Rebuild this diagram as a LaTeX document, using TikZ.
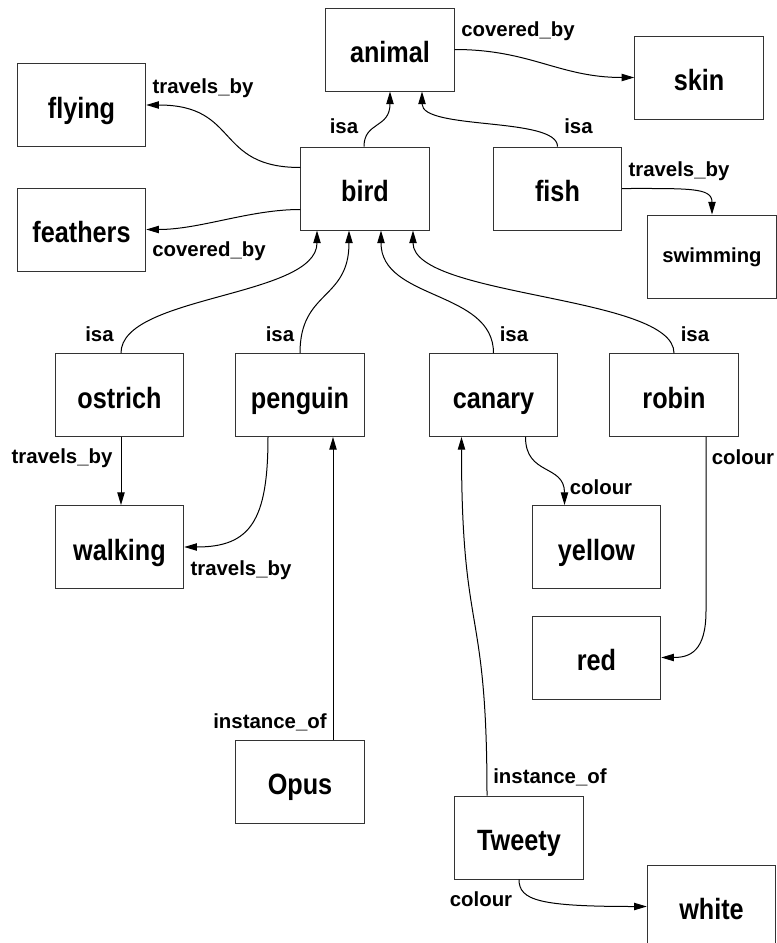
\documentclass[tikz,border=0pt]{standalone}
\usepackage{fontspec}
\setmainfont{Liberation Sans}
\newfontfamily\conceptfont[FakeStretch=0.86]{Liberation Sans}
\usetikzlibrary{arrows.meta,calc}
\begin{document}
\begin{tikzpicture}[x=0.75pt,y=-0.75pt,
  box/.style={draw=black!80, line width=0.7pt, minimum width=96.4pt, minimum height=62.25pt,
    inner sep=0pt, font=\conceptfont\fontsize{22}{24}\selectfont\bfseries, text height=20pt, text depth=0.2pt},
  smallbox/.style={box, font=\fontsize{15.2}{18}\selectfont\bfseries, text height=9pt, text depth=0.75pt},
  lbl/.style={anchor=base, inner sep=0pt, font=\fontsize{15.3}{18}\selectfont\bfseries},
  link/.style={line width=0.75pt},
  arr/.style={link, -{Triangle[length=9.5pt,width=5.5pt]}}]
\useasboundingbox (0,0) rectangle (777,943);

% concepts
\node[box] (animal)   at (390,49.5)   {animal};
\node[box] (skin)     at (699,77.5)   {skin};
\node[box] (flying)   at (81.5,105)   {flying};
\node[box] (feathers) at (81.5,229.5) {feathers};
\node[box] (bird)     at (365,188.5)  {bird};
\node[box] (fish)     at (557.5,188.5){fish};
\node[smallbox] (swimming) at (712,256.5) {swimming};
\node[box] (ostrich)  at (119.5,395)  {ostrich};
\node[box] (penguin)  at (300,395)    {penguin};
\node[box] (canary)   at (493.5,395)  {canary};
\node[box] (robin)    at (674,395)    {robin};
\node[box] (walking)  at (119.5,547)  {walking};
\node[box] (yellow)   at (596.5,547)  {yellow};
\node[box] (red)      at (596.5,657.5){red};
\node[box] (Opus)     at (300,781.5)  {Opus};
\node[box] (Tweety)   at (519,837.5)  {Tweety};
\node[box] (white)    at (711.5,906.5){white};

% relations
\draw[arr] ($(bird.north)+(-1,0)$) .. controls ($(bird.north)+(-1,-25)$) and ($(animal.south)+(0,37)$) .. (animal.south);
\draw[arr] (fish.north) .. controls ($(fish.north)+(0,-30)$) and ($(animal.south)+(32,39)$) .. ($(animal.south)+(32,0)$);
\draw[arr] (animal.east) .. controls ($(animal.east)+(76,0)$) and ($(skin.west)+(-75,0)$) .. (skin.west);
\draw[arr] ($(bird.west)+(0,-21)$) .. controls ($(bird.west)+(-86,-21)$) and ($(flying.east)+(94,0)$) .. (flying.east);
\draw[arr] ($(bird.west)+(0,21)$) .. controls ($(bird.west)+(-51,21)$) and ($(feathers.east)+(54,0)$) .. (feathers.east);
\draw[arr] (fish.east) .. controls ($(fish.east)+(68,0)$) and ($(swimming.north)+(0,-27)$) .. (swimming.north);
\draw[arr] ($(ostrich.north)+(1.5,0)$) .. controls ($(ostrich.north)+(1.5,-58)$) and ($(bird.south)+(-48,67)$) .. ($(bird.south)+(-48,0)$);
\draw[arr] (penguin.north) .. controls ($(penguin.north)+(0,-63)$) and ($(bird.south)+(-16,70)$) .. ($(bird.south)+(-16,0)$);
\draw[arr] (canary.north) .. controls ($(canary.north)+(0,-63)$) and ($(bird.south)+(16,70)$) .. ($(bird.south)+(16,0)$);
\draw[arr] (robin.north) .. controls ($(robin.north)+(0,-58)$) and ($(bird.south)+(48,67)$) .. ($(bird.south)+(48,0)$);
\draw[arr] ($(ostrich.south)+(1.5,0)$) -- ($(walking.north)+(1.5,0)$);
\draw[arr] ($(penguin.south)+(-32,0)$) .. controls ($(penguin.south)+(-32,84)$) and ($(walking.east)+(66,0)$) .. (walking.east);
\draw[arr] ($(Opus.north)+(33,0)$) -- ($(penguin.south)+(33,0)$);
\draw[arr] ($(Tweety.north)+(-32,0)$) .. controls ($(Tweety.north)+(-32,-196)$) and ($(canary.south)+(-32,204)$) .. ($(canary.south)+(-32,0)$);
\draw[arr] ($(canary.south)+(32,0)$) .. controls ($(canary.south)+(32,39)$) and ($(yellow.north)+(-32,-41)$) .. ($(yellow.north)+(-32,0)$);
\draw[arr] ($(robin.south)+(32,0)$) -- ($(robin.south)+(32,174)$) .. controls ($(robin.south)+(32,214)$) and ($(red.east)+(29,0)$) .. (red.east);
\draw[arr] (Tweety.south) .. controls ($(Tweety.south)+(0,21)$) and ($(white.west)+(-107,0)$) .. (white.west);

% relation names
\node[lbl] (l-bird-animal)    at (344,133)   {isa};
\node[lbl] (l-fish-animal)    at (578.5,133) {isa};
\node[lbl] (l-animal-skin)    at (518,36)    {covered\_by};
\node[lbl] (l-bird-flying)    at (203,93)    {travels\_by};
\node[lbl] (l-bird-feathers)  at (209,256)   {covered\_by};
\node[lbl] (l-fish-swimming)  at (679,176)   {travels\_by};
\node[lbl] (l-ostrich-bird)   at (99.5,341)  {isa};
\node[lbl] (l-penguin-bird)   at (280,341)   {isa};
\node[lbl] (l-canary-bird)    at (514,341)   {isa};
\node[lbl] (l-robin-bird)     at (695,341)   {isa};
\node[lbl] (l-ostrich-walk)   at (62,463)    {travels\_by};
\node[lbl] (l-penguin-walk)   at (241,575)   {travels\_by};
\node[lbl] (l-canary-yellow)  at (601,494)   {colour};
\node[lbl] (l-robin-red)      at (743,464)   {colour};
\node[lbl] (l-opus)           at (270,728)   {instance\_of};
\node[lbl] (l-tweety)         at (550,783)   {instance\_of};
\node[lbl] (l-tweety-white)   at (481,906)   {colour};
\end{tikzpicture}
\end{document}
